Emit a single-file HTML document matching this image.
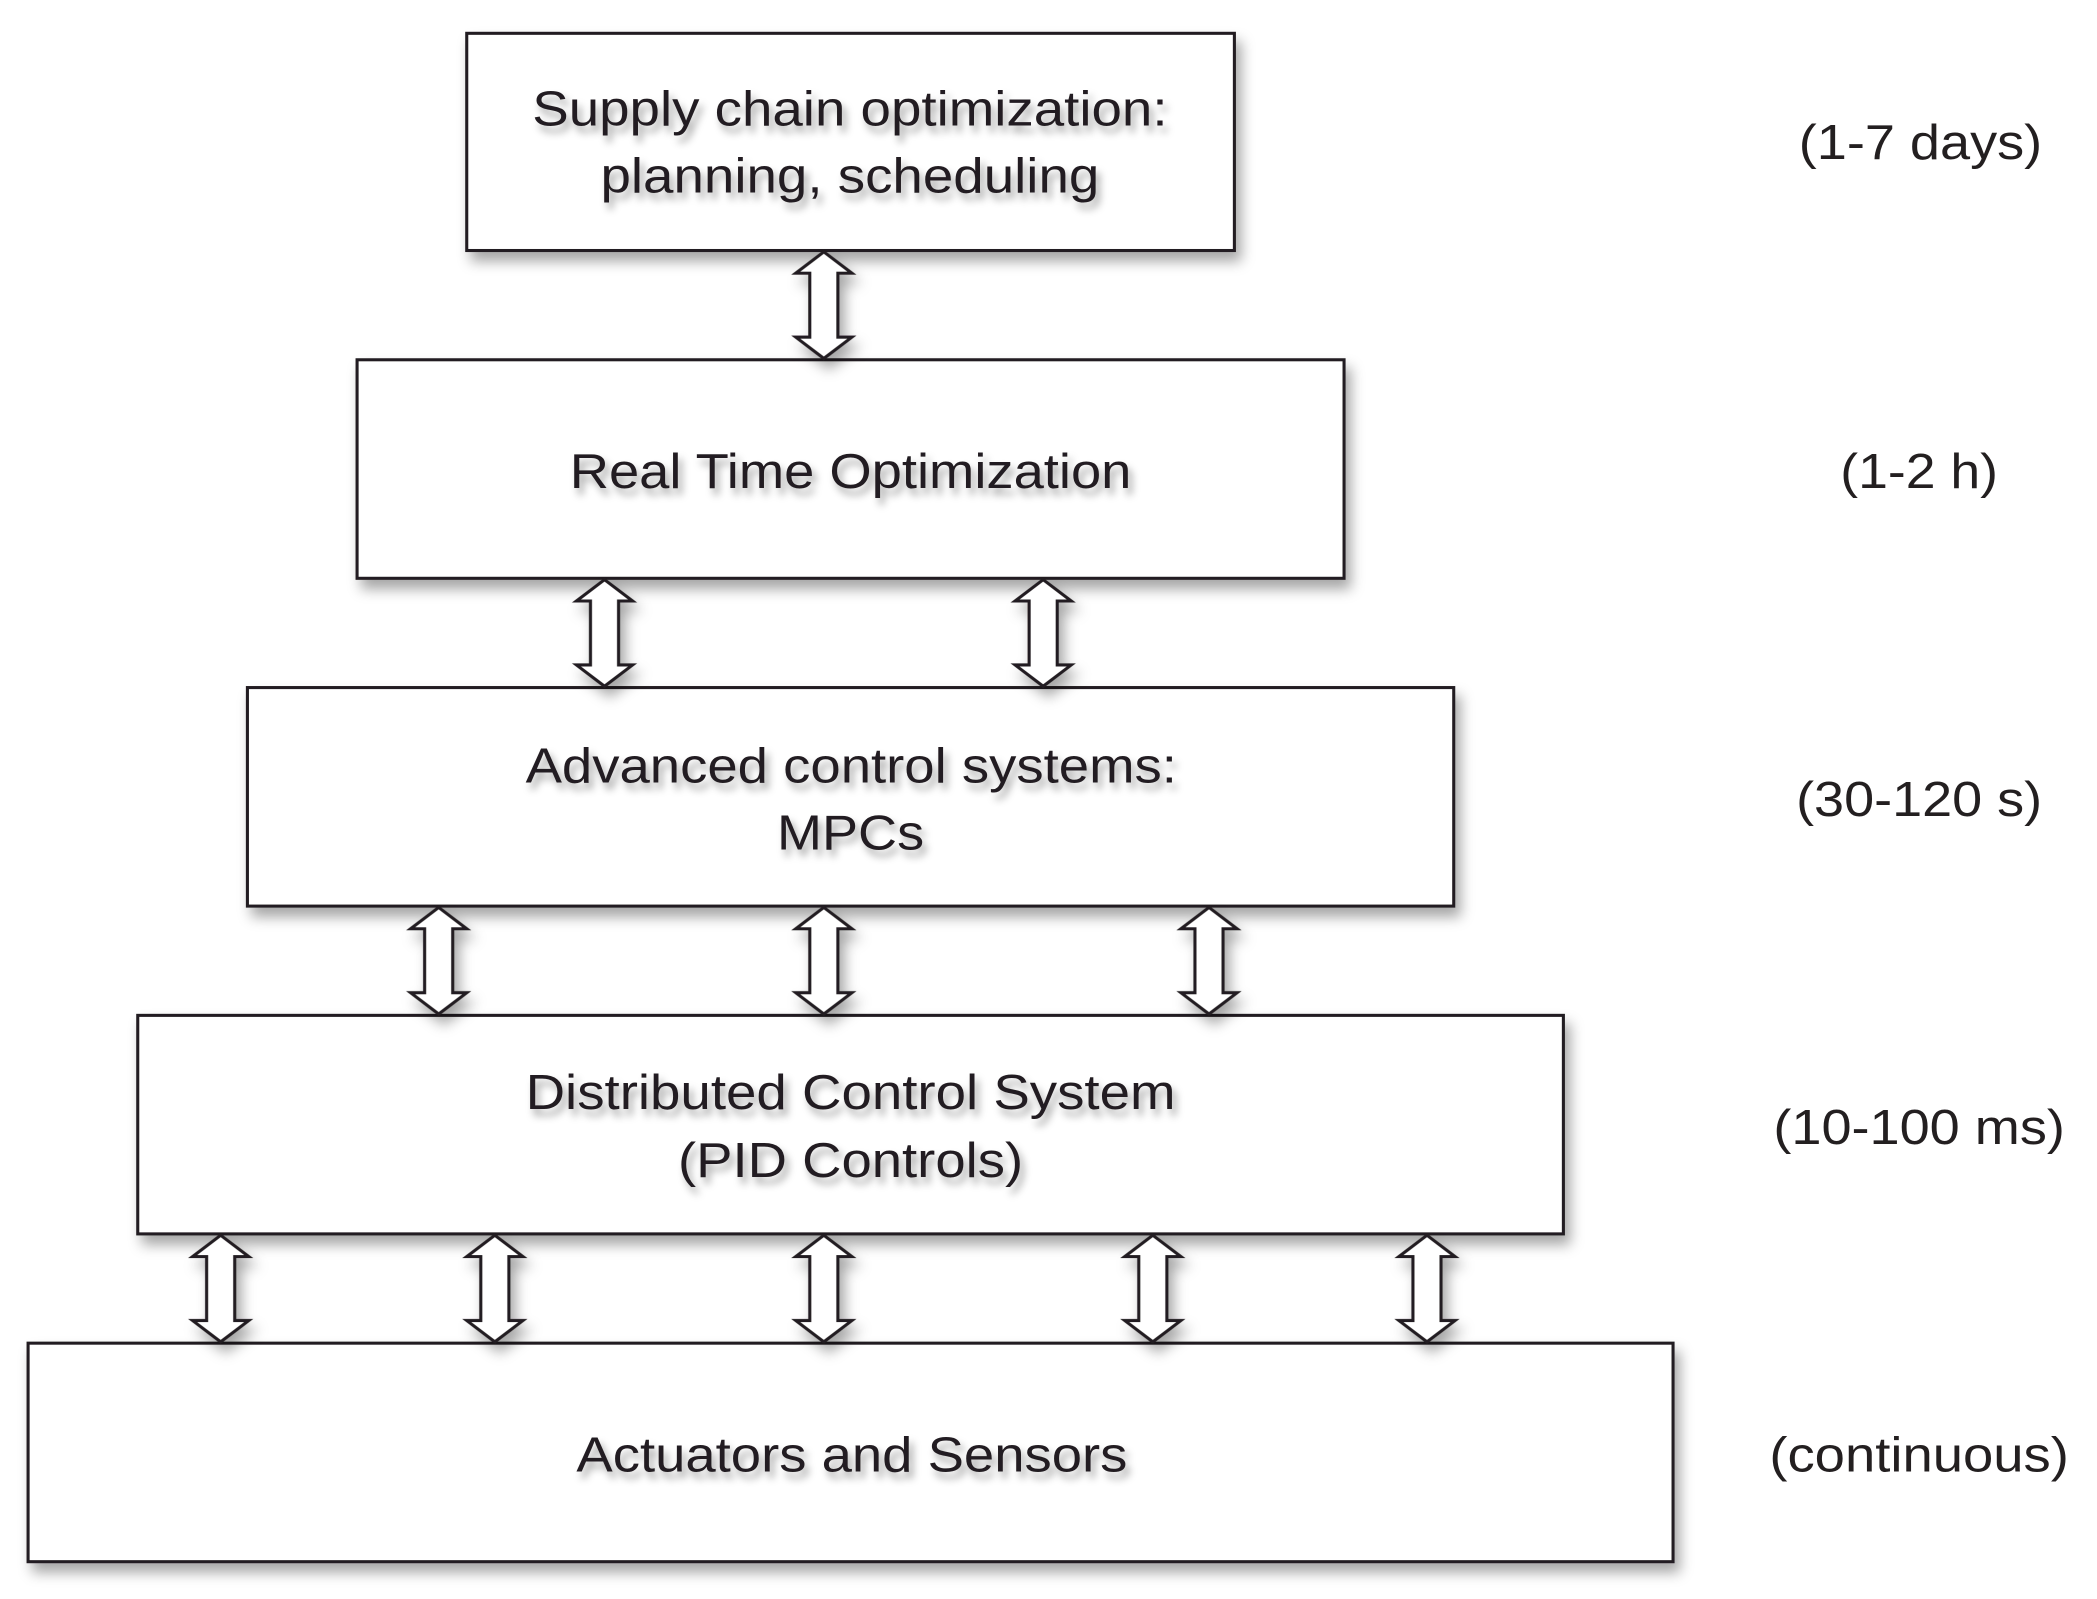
<!DOCTYPE html>
<html><head><meta charset="utf-8"><style>
html,body{margin:0;padding:0;background:#fff;}
svg{display:block;}
text{font-family:"Liberation Sans",sans-serif;font-size:37px;fill:#231f20;}
</style></head><body>
<svg width="2097" height="1599" viewBox="0 0 1568 1200" preserveAspectRatio="none" xmlns="http://www.w3.org/2000/svg">
<defs>
<filter id="sh" x="-10%" y="-10%" width="130%" height="140%">
<feDropShadow dx="4" dy="7" stdDeviation="5" flood-color="#000" flood-opacity="0.35"/>
</filter>
<filter id="ts" x="-10%" y="-30%" width="130%" height="180%">
<feDropShadow dx="3" dy="5" stdDeviation="3" flood-color="#000" flood-opacity="0.35"/>
</filter>
<g id="arr">
<path d="M0,-40 L21,-24 L10.5,-24 L10.5,24 L21,24 L0,40 L-21,24 L-10.5,24 L-10.5,-24 L-21,-24 Z" fill="#fff" stroke="#231f20" stroke-width="2.3" stroke-linejoin="miter"/>
</g>
</defs>
<g fill="#fff" stroke="#231f20" stroke-width="2.3" filter="url(#sh)">
<rect x="349" y="25" width="574" height="163"/>
<rect x="267" y="270" width="738" height="164"/>
<rect x="185" y="516" width="902" height="164"/>
<rect x="103" y="762" width="1066" height="164"/>
<rect x="21" y="1008" width="1230" height="164"/>
</g>
<g filter="url(#sh)">
<use href="#arr" x="616" y="229"/>
<use href="#arr" x="452" y="475"/>
<use href="#arr" x="780" y="475"/>
<use href="#arr" x="328" y="721"/>
<use href="#arr" x="616" y="721"/>
<use href="#arr" x="904" y="721"/>
<use href="#arr" x="165" y="967"/>
<use href="#arr" x="370" y="967"/>
<use href="#arr" x="616" y="967"/>
<use href="#arr" x="862" y="967"/>
<use href="#arr" x="1067" y="967"/>
</g>
<g filter="url(#ts)" dominant-baseline="central">
<text x="398" y="82" textLength="475" lengthAdjust="spacingAndGlyphs">Supply chain optimization:</text>
<text x="449" y="132" textLength="373" lengthAdjust="spacingAndGlyphs">planning, scheduling</text>
<text x="426" y="354" textLength="420" lengthAdjust="spacingAndGlyphs">Real Time Optimization</text>
<text x="393" y="575" textLength="487" lengthAdjust="spacingAndGlyphs">Advanced control systems:</text>
<text x="581" y="625" textLength="110" lengthAdjust="spacingAndGlyphs">MPCs</text>
<text x="393" y="820" textLength="486" lengthAdjust="spacingAndGlyphs">Distributed Control System</text>
<text x="507" y="871" textLength="258" lengthAdjust="spacingAndGlyphs">(PID Controls)</text>
<text x="431" y="1092" textLength="412" lengthAdjust="spacingAndGlyphs">Actuators and Sensors</text>
</g>
<g dominant-baseline="central">
<text x="1345" y="107" textLength="182" lengthAdjust="spacingAndGlyphs">(1-7 days)</text>
<text x="1376" y="354" textLength="118" lengthAdjust="spacingAndGlyphs">(1-2 h)</text>
<text x="1343" y="600" textLength="184" lengthAdjust="spacingAndGlyphs">(30-120 s)</text>
<text x="1326" y="846" textLength="218" lengthAdjust="spacingAndGlyphs">(10-100 ms)</text>
<text x="1323" y="1092" textLength="224" lengthAdjust="spacingAndGlyphs">(continuous)</text>
</g>
</svg>
</body></html>
